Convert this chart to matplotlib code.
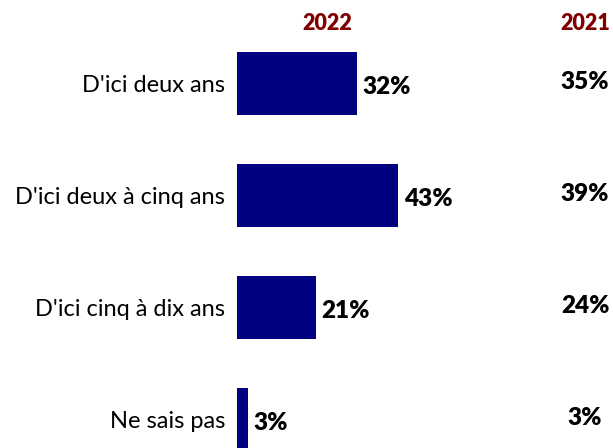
import matplotlib.pyplot as plt

# Data
categories = ["D'ici deux ans", "D'ici deux à cinq ans", "D'ici cinq à dix ans", "Ne sais pas"]
values_2022 = [32, 43, 21, 3]
values_2021 = [35, 39, 24, 3]
years = ["2022", "2021"]

plt.rcParams['font.family'] = ['Lato', 'DejaVu Sans']

fig = plt.figure(figsize=(6.13, 4.48), dpi=100)
ax = fig.add_axes([237 / 613, 0, 376 / 613, 1])

px_per_unit = 3.75
ax.set_xlim(0, 376 / px_per_unit)
ax.set_ylim((448 - 83.5) / 112, -83.5 / 112)

pos = list(range(len(categories)))
ax.barh(pos, values_2022, height=0.5625, color='#000080')

for p, v in zip(pos, values_2022):
    ax.text(v + 1.5, p + 0.03, f"{v}%", va='center', ha='left',
            fontsize=17.5, fontweight='heavy', color='black')

col_2021 = (585 - 237) / px_per_unit
for p, v in zip(pos, values_2021):
    ax.text(col_2021, p - 0.01, f"{v}%", va='center', ha='center',
            fontsize=17.5, fontweight='heavy', color='black')

# Column headers
head_y = -83.5 / 112 + 23 / 112
ax.text((327 - 237) / px_per_unit, head_y, years[0], ha='center', va='center',
        fontsize=15.5, fontweight='heavy', color='#800000')
ax.text(col_2021, head_y, years[1], ha='center', va='center',
        fontsize=15.5, fontweight='heavy', color='#800000')

ax.set_yticks(pos)
ax.set_yticklabels(categories, fontsize=17)
ax.tick_params(axis='y', length=0, pad=8.5)
ax.set_xticks([])
for s in ax.spines.values():
    s.set_visible(False)

plt.savefig("out.png", dpi=100)
